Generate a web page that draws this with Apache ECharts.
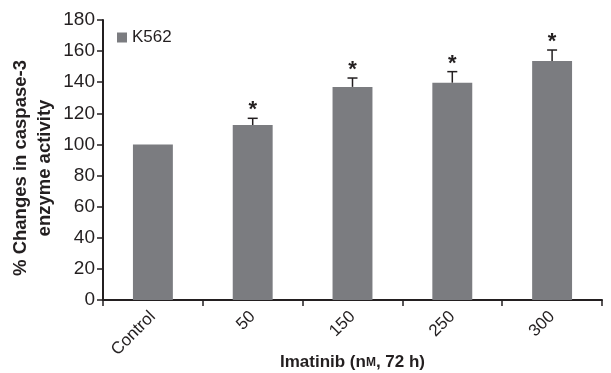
<!DOCTYPE html>
<html><head><meta charset="utf-8">
<script src="https://cdn.jsdelivr.net/npm/echarts@6/dist/echarts.min.js"></script>
<style>html,body{margin:0;padding:0;background:#fff}#c{width:611px;height:373px}</style>
</head><body><div id="c"></div>
<script>
var categories = ['Control', '50', '150', '250', '300'];
var values = [100, 112.5, 137, 139.7, 153.6];
var errors = [0, 4.3, 5.7, 7.1, 7.1];
var stars = ['', '*', '*', '*', '*'];
var yTicks = [0, 20, 40, 60, 80, 100, 120, 140, 160, 180];

var chart = echarts.init(document.getElementById('c'));
var font = 'Liberation Sans, Arial, sans-serif';
chart.setOption({
  animation: false,
  grid: {left: 103, right: 9, top: 20, bottom: 73, containLabel: false, outerBoundsMode: 'none'},
  legend: {
    data: ['K562'], left: 117, top: 29, padding: 0, itemWidth: 10, itemHeight: 10,
    icon: 'rect', textStyle: {fontFamily: font, fontSize: 17, color: '#231f20'}
  },
  xAxis: {
    type: 'category', data: categories,
    axisLine: {lineStyle: {color: '#231f20', width: 2}},
    axisTick: {show: true, length: 6, lineStyle: {color: '#231f20', width: 1.5}},
    axisLabel: {rotate: 45, fontFamily: font, fontSize: 17, color: '#231f20', margin: 14},
    name: '{a|Imatinib (n}{b|M}{a|, 72 h)}', nameLocation: 'middle', nameGap: 54,
    nameMoveOverlap: false,
    nameTextStyle: {rich: {
      a: {fontFamily: font, fontSize: 17, fontWeight: 'bold', color: '#231f20'},
      b: {fontFamily: font, fontSize: 12, fontWeight: 'bold', color: '#231f20'}
    }}
  },
  yAxis: {
    type: 'value', min: 0, max: 180, interval: 20,
    splitLine: {show: false},
    axisLine: {show: true, lineStyle: {color: '#231f20', width: 2}},
    axisTick: {show: true, length: 6, lineStyle: {color: '#231f20', width: 1.5}},
    axisLabel: {fontFamily: font, fontSize: 19, color: '#231f20', margin: 8,
      formatter: function (v) { return yTicks.indexOf(v) >= 0 ? String(v) : ''; }},
    name: '% Changes in caspase-3\nenzyme activity', nameLocation: 'middle', nameGap: 46,
    nameMoveOverlap: false,
    nameTextStyle: {fontFamily: font, fontSize: 18.5, fontWeight: 'bold', color: '#231f20', lineHeight: 24, padding: [0, 16, 0, 0]}
  },
  series: [
    {name: 'K562', type: 'bar', data: values, barWidth: '40%', itemStyle: {color: '#7b7c80'}},
    {
      type: 'custom', silent: true,
      data: values.map(function (v, i) { return [i, v, errors[i]]; }),
      renderItem: function (params, api) {
        var i = api.value(0), v = api.value(1), e = api.value(2);
        var s = params.dataIndex;
        var base = api.coord([i, v]);
        var top = api.coord([i, v + e]);
        var children = [];
        if (e > 0) {
          children.push({type: 'line', shape: {x1: base[0], y1: base[1], x2: top[0], y2: top[1]}, style: {stroke: '#231f20', lineWidth: 1.5}});
          children.push({type: 'line', shape: {x1: top[0] - 5, y1: top[1], x2: top[0] + 5, y2: top[1]}, style: {stroke: '#231f20', lineWidth: 1.5}});
        }
        if (stars[s]) {
          children.push({type: 'text', style: {text: stars[s], x: top[0], y: top[1] + 3, align: 'center', verticalAlign: 'bottom', font: 'bold 22px ' + font, fill: '#231f20'}});
        }
        return {type: 'group', children: children};
      },
      z: 5
    }
  ]
});
</script></body></html>
